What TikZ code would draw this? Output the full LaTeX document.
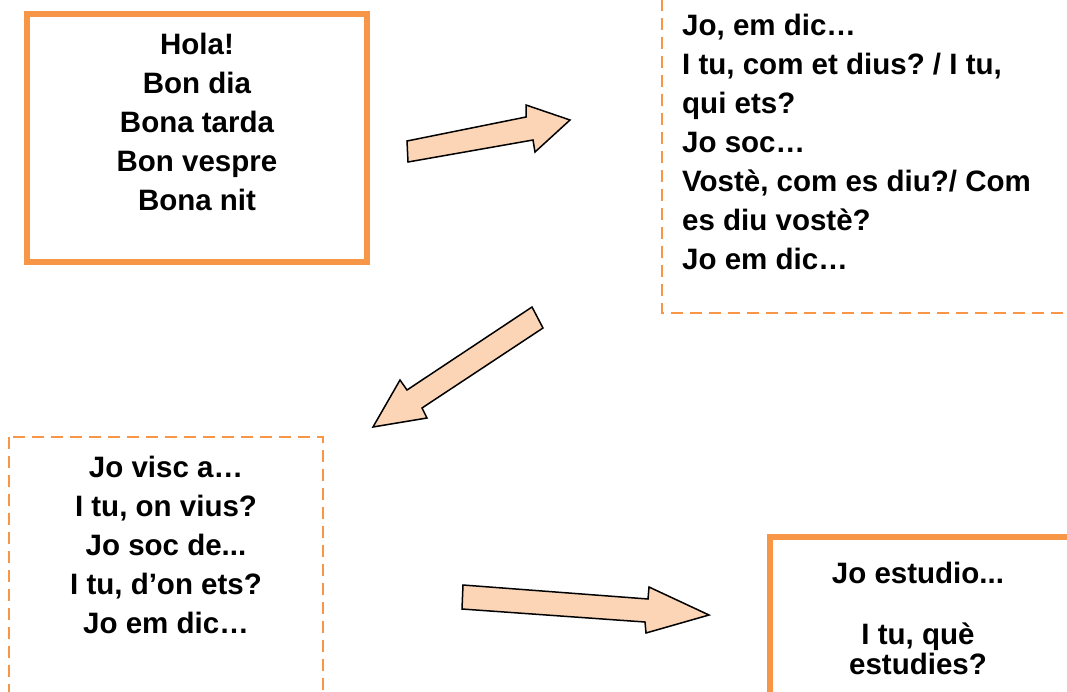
\documentclass[tikz,border=0pt]{standalone}
\usepackage{fontspec}
\setmainfont{Liberation Sans}
\usepackage{xcolor}
\usepackage{tikz}
\frenchspacing

\definecolor{boxorange}{HTML}{F79646}
\definecolor{arrowpeach}{HTML}{FBD5B5}

\begin{document}
\begin{tikzpicture}[x=1pt, y=-1pt,
    solidbox/.style={draw=boxorange, line width=6pt},
    dashbox/.style={draw=boxorange, line width=2pt, dash pattern=on 12pt off 7pt},
    blockarrow/.style={draw=black, fill=arrowpeach, line width=1.5pt, line join=miter},
    txt/.style={font=\fontsize{29.5}{39}\selectfont\bfseries, inner sep=0pt}]
      \useasboundingbox (0,0) rectangle (1067,691);

      % Boxes
      \draw[solidbox] (27,14) rectangle (367,262);
      \draw[dashbox] (662,-20) rectangle (1100,313);
      \draw[dashbox] (9,437) rectangle (323,720);
      \draw[solidbox] (770,537) rectangle (1100,720);

      % Texts
      \node[txt, align=center] (salut) at (197,122) {Hola!\\Bon dia\\Bona tarda\\Bon vespre\\Bona nit};
      \node[txt, align=left, anchor=west] (nom) at (682,142) {Jo, em dic…\\I tu, com et dius? / I tu,\\qui ets?\\Jo soc…\\Vostè, com es diu?/ Com\\es diu vostè?\\Jo em dic…};
      \node[txt, align=center] (lloc) at (166,545) {Jo visc a…\\I tu, on vius?\\Jo soc de...\\I tu, d’on ets?\\Jo em dic…};
      \node[txt] (estudis) at (918,573) {Jo estudio...};
      \node[txt, align=center, font=\fontsize{29.5}{30}\selectfont\bfseries] (pregunta) at (918,649) {I tu, què\\estudies?};

      % Arrows
      \draw[blockarrow] (408,162) -- (407,141) -- (526,117) -- (526,105) -- (570,120) -- (535,152) -- (533,140) -- cycle;
      \draw[blockarrow] (532,307) -- (543,328) -- (422,408) -- (427,418) -- (373,427) -- (400,380) -- (407,390) -- cycle;
      \draw[blockarrow] (463,585) -- (462,609) -- (645,622) -- (646,633) -- (709,615) -- (649,587) -- (648,599) -- cycle;
    \end{tikzpicture}
\end{document}
